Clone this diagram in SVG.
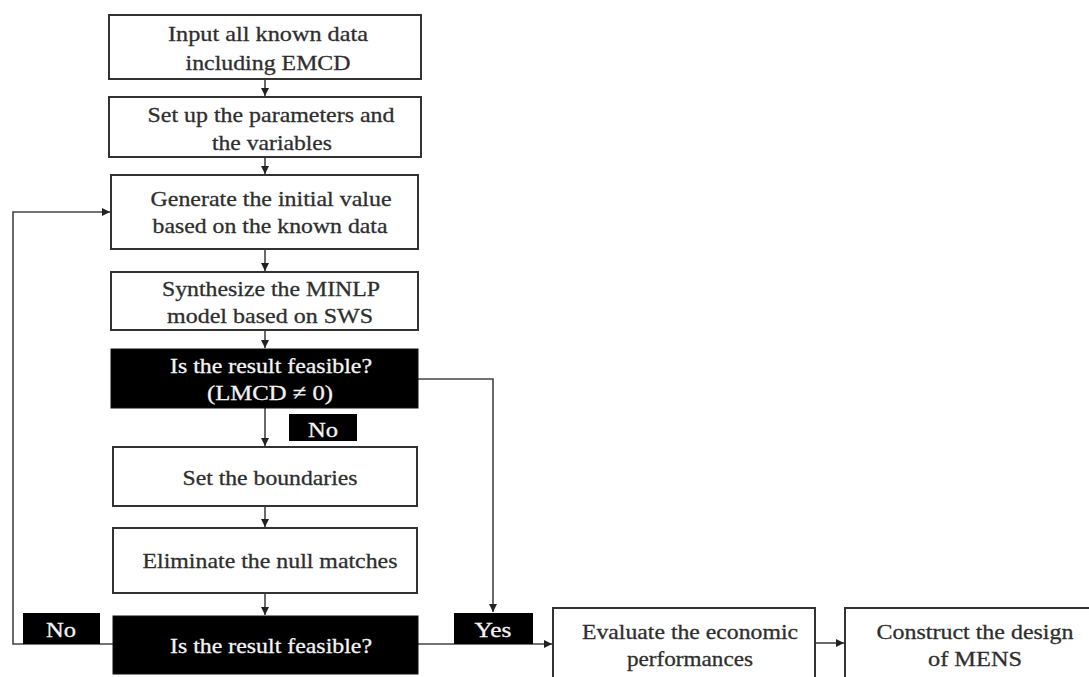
<svg xmlns="http://www.w3.org/2000/svg" width="1089" height="677" viewBox="0 0 1089 677">
<style>
.box{fill:#fff;stroke:#333;stroke-width:2}
.dec{fill:#000;stroke:#111;stroke-width:1}
.t{font-family:"Liberation Serif","Times New Roman",serif;font-size:22px;fill:#2e2e2e;stroke:#2e2e2e;stroke-width:0.3;text-anchor:middle}
.w{fill:#f4f4f4;stroke:#f4f4f4}
.c{fill:none;stroke:#444;stroke-width:1.6}
</style>
<defs>
<marker id="ah" markerWidth="10" markerHeight="10" refX="8" refY="4" orient="auto" markerUnits="userSpaceOnUse">
<path d="M0,0 L8,4 L0,8 Z" fill="#222"/>
</marker>
</defs>
<rect width="1089" height="677" fill="#fff"/>
<g id="connectors">
<line class="c" x1="265" y1="79" x2="265" y2="96" marker-end="url(#ah)"/>
<line class="c" x1="265" y1="157" x2="265" y2="174" marker-end="url(#ah)"/>
<line class="c" x1="265" y1="249" x2="265" y2="271" marker-end="url(#ah)"/>
<line class="c" x1="265" y1="330" x2="265" y2="348" marker-end="url(#ah)"/>
<line class="c" x1="265" y1="408" x2="265" y2="446" marker-end="url(#ah)"/>
<line class="c" x1="265" y1="506" x2="265" y2="527" marker-end="url(#ah)"/>
<line class="c" x1="265" y1="593" x2="265" y2="615" marker-end="url(#ah)"/>
<polyline class="c" points="418,379 493,379 493,612" marker-end="url(#ah)"/>
<polyline class="c" points="113,644 13,644 13,212 110,212" marker-end="url(#ah)"/>
<line class="c" x1="418" y1="644" x2="552" y2="644" marker-end="url(#ah)"/>
<line class="c" x1="815" y1="643" x2="844" y2="643" marker-end="url(#ah)"/>
</g>
<g id="n1">
<rect class="box" x="109" y="15" width="312" height="64"/>
<text class="t" x="268" y="41" textLength="200" lengthAdjust="spacingAndGlyphs">Input all known data</text>
<text class="t" x="268" y="70" textLength="165" lengthAdjust="spacingAndGlyphs">including EMCD</text>
</g>
<g id="n2">
<rect class="box" x="109" y="97" width="312" height="60"/>
<text class="t" x="271" y="122" textLength="247" lengthAdjust="spacingAndGlyphs">Set up the parameters and</text>
<text class="t" x="272" y="150" textLength="120" lengthAdjust="spacingAndGlyphs">the variables</text>
</g>
<g id="n3">
<rect class="box" x="111" y="175" width="307" height="74"/>
<text class="t" x="271" y="206" textLength="241" lengthAdjust="spacingAndGlyphs">Generate the initial value</text>
<text class="t" x="270" y="233" textLength="235" lengthAdjust="spacingAndGlyphs">based on the known data</text>
</g>
<g id="n4">
<rect class="box" x="111" y="272" width="307" height="58"/>
<text class="t" x="271" y="296" textLength="218" lengthAdjust="spacingAndGlyphs">Synthesize the MINLP</text>
<text class="t" x="270" y="323" textLength="206" lengthAdjust="spacingAndGlyphs">model based on SWS</text>
</g>
<g id="d1">
<rect class="dec" x="111" y="349" width="307" height="59"/>
<text class="t w" x="271" y="373" textLength="202" lengthAdjust="spacingAndGlyphs">Is the result feasible?</text>
<text class="t w" x="270" y="400" textLength="126" lengthAdjust="spacingAndGlyphs">(LMCD ≠ 0)</text>
</g>
<g id="lblNo1">
<rect x="289" y="414" width="68" height="27" fill="#000"/>
<text class="t w" x="323" y="437" textLength="30" lengthAdjust="spacingAndGlyphs">No</text>
</g>
<g id="n5">
<rect class="box" x="113" y="447" width="304" height="59"/>
<text class="t" x="270" y="485" textLength="175" lengthAdjust="spacingAndGlyphs">Set the boundaries</text>
</g>
<g id="n6">
<rect class="box" x="113" y="528" width="304" height="65"/>
<text class="t" x="270" y="568" textLength="255" lengthAdjust="spacingAndGlyphs">Eliminate the null matches</text>
</g>
<g id="d2">
<rect class="dec" x="113" y="616" width="305" height="58"/>
<text class="t w" x="271" y="653" textLength="202" lengthAdjust="spacingAndGlyphs">Is the result feasible?</text>
</g>
<g id="lblNo2">
<rect x="23" y="613" width="77" height="31" fill="#000"/>
<text class="t w" x="61" y="637" textLength="30" lengthAdjust="spacingAndGlyphs">No</text>
</g>
<g id="lblYes">
<rect x="454" y="613" width="79" height="31" fill="#000"/>
<text class="t w" x="493" y="637" textLength="37" lengthAdjust="spacingAndGlyphs">Yes</text>
</g>
<g id="n7">
<rect class="box" x="553" y="608" width="262" height="90"/>
<text class="t" x="690" y="639" textLength="216" lengthAdjust="spacingAndGlyphs">Evaluate the economic</text>
<text class="t" x="690" y="666" textLength="126" lengthAdjust="spacingAndGlyphs">performances</text>
</g>
<g id="n8">
<rect class="box" x="845" y="608" width="260" height="90"/>
<text class="t" x="975" y="639" textLength="197" lengthAdjust="spacingAndGlyphs">Construct the design</text>
<text class="t" x="975" y="666" textLength="94" lengthAdjust="spacingAndGlyphs">of MENS</text>
</g>
</svg>
